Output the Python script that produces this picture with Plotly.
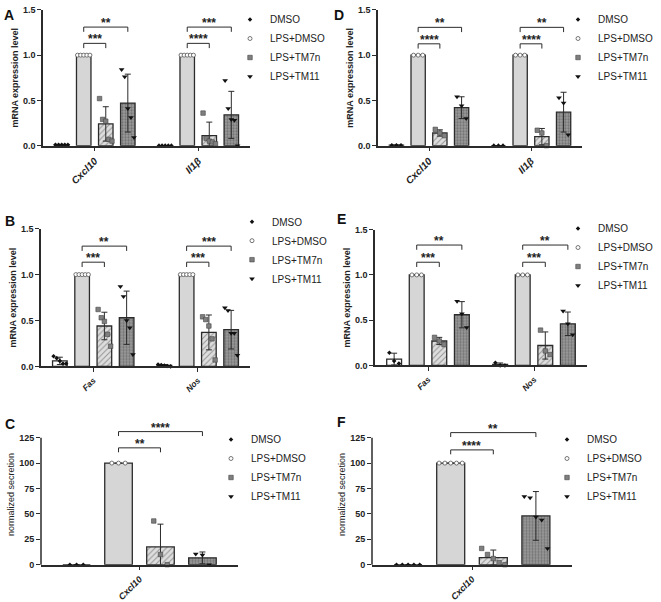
import plotly.graph_objects as go

GROUPS = ["DMSO", "LPS+DMSO", "LPS+TM7n", "LPS+TM11"]

# A: qPCR, n=5  (per gene -> per group)
A_GENES = ["Cxcl10", "Il1β"]
A_MEAN = [[0.01, 1.00, 0.24, 0.47], [0.00, 1.00, 0.11, 0.34]]
A_SD = [[0.003, 0.0, 0.19, 0.32], [0.0, 0.0, 0.15, 0.26]]
A_PTS = [
    [[0.01, 0.01, 0.01, 0.01, 0.01], [1, 1, 1, 1, 1], [0.52, 0.29, 0.27, 0.07, 0.05], [0.84, 0.76, 0.41, 0.31, 0.09]],
    [[0.0, 0.0, 0.0, 0.0, 0.0], [1, 1, 1, 1, 1], [0.36, 0.08, 0.05, 0.04, 0.02], [0.72, 0.41, 0.29, 0.28, 0.0]],
]
A_SIG = [["***", "**"], ["****", "***"]]

# B
B_GENES = ["Fas", "Nos"]
B_MEAN = [[0.06, 1.00, 0.44, 0.53], [0.01, 1.00, 0.37, 0.40]]
B_SD = [[0.04, 0.0, 0.15, 0.29], [0.01, 0.0, 0.19, 0.21]]
B_PTS = [
    [[0.11, 0.09, 0.06, 0.03, 0.03], [1, 1, 1, 1, 1], [0.62, 0.53, 0.49, 0.35, 0.22], [0.87, 0.76, 0.50, 0.42, 0.13]],
    [[0.02, 0.015, 0.01, 0.005, 0.0], [1, 1, 1, 1, 1], [0.54, 0.51, 0.44, 0.30, 0.07], [0.64, 0.61, 0.36, 0.36, 0.12]],
]
B_SIG = [["***", "**"], ["***", "***"]]

# C: secretion, n=3
C_GENES = ["Cxcl10"]
C_MEAN = [[0, 100, 17.5, 6.7]]
C_SD = [[0, 0, 22.4, 5.8]]
C_PTS = [[[0, 0, 0], [100, 100, 100], [43, 10, 0], [10.5, 9.5, 0]]]
C_SIG = [["**", "****"]]

# D: n=3
D_GENES = ["Cxcl10", "Il1β"]
D_MEAN = [[0.005, 1.00, 0.14, 0.42], [0.0, 1.00, 0.10, 0.37]]
D_SD = [[0.0, 0.0, 0.035, 0.12], [0.0, 0.0, 0.09, 0.22]]
D_PTS = [
    [[0.005, 0.005, 0.005], [1, 1, 1], [0.18, 0.14, 0.11], [0.54, 0.44, 0.30]],
    [[0.0, 0.0, 0.0], [1, 1, 1], [0.17, 0.14, 0.0], [0.53, 0.47, 0.12]],
]
D_SIG = [["****", "**"], ["****", "**"]]

# E: n=3
E_GENES = ["Fas", "Nos"]
E_MEAN = [[0.07, 1.00, 0.27, 0.56], [0.01, 1.00, 0.22, 0.46]]
E_SD = [[0.065, 0.0, 0.04, 0.145], [0.017, 0.0, 0.15, 0.13]]
E_PTS = [
    [[0.14, 0.05, 0.02], [1, 1, 1], [0.31, 0.27, 0.23], [0.71, 0.57, 0.42]],
    [[0.03, 0.0, 0.0], [1, 1, 1], [0.39, 0.16, 0.12], [0.60, 0.46, 0.34]],
]
E_SIG = [["***", "**"], ["***", "**"]]

# F: n=5
F_GENES = ["Cxcl10"]
F_MEAN = [[0, 100, 7, 48]]
F_SD = [[0, 0, 7.4, 24]]
F_PTS = [[[0, 0, 0, 0, 0], [100, 100, 100, 100, 100], [16, 10, 6, 2, 0], [67, 66, 47, 44, 16]]]
F_SIG = [["****", "**"]]

W, H = 661, 602
FONT = "Liberation Sans, Arial, sans-serif"
INK = "#2b2b2b"
SLOT = 0.213
BAR_W = 0.14
OFFS = [(k - 1.5) * SLOT for k in range(4)]

BAR_STYLE = [
    dict(color="white"),
    dict(color="#d6d6d6"),
    dict(color="#dedede", pattern=dict(shape="/", fgcolor="#4a4a4a", size=4, solidity=0.25, fillmode="overlay")),
    dict(color="#9c9c9c", pattern=dict(shape=".", fgcolor="#4a4a4a", size=3, solidity=0.45, fillmode="overlay")),
]
PT_STYLE = [
    dict(symbol="diamond", size=3.5, color="#111"),
    dict(symbol="circle", size=4, color="white", line=dict(color="#555", width=0.8)),
    dict(symbol="square", size=4.5, color="#7f7f7f", line=dict(color="#444", width=0.6)),
    dict(symbol="triangle-down", size=5, color="#111"),
]

# box = (x axis left px, x axis right px, px of top tick, px of zero)
PANELS = [
    dict(n=1, letter="A", lab=(2, 0), genes=A_GENES, mean=A_MEAN, sd=A_SD, pts=A_PTS, sig=A_SIG,
         box=(43, 250, 5, 144), ymax=1.5, yvis=1.5, dtick=0.5, fmt=".1f", ytitle="<b>mRNA expression level</b>",
         brk=(1.13, 1.31), leg=(270, 6), jit=0.03, gbold=True, gsize=10),
    dict(n=2, letter="B", lab=(3, 211), genes=B_GENES, mean=B_MEAN, sd=B_SD, pts=B_PTS, sig=B_SIG,
         box=(41, 250, 229, 370), ymax=1.5, yvis=1.5, dtick=0.5, fmt=".1f", ytitle="<b>mRNA expression level</b>",
         brk=(1.135, 1.31), leg=(272, 221), jit=0.03, gbold=True, gsize=8.5),
    dict(n=3, letter="C", lab=(3, 419), genes=C_GENES, mean=C_MEAN, sd=C_SD, pts=C_PTS, sig=C_SIG,
         box=(41, 238, 443, 573), ymax=138, yvis=125, dtick=25, fmt="d", ytitle="normalized secretion",
         brk=(115, 131), leg=(251, 444), jit=0.034, gbold=True, gsize=9),
    dict(n=4, letter="D", lab=(332, 0), genes=D_GENES, mean=D_MEAN, sd=D_SD, pts=D_PTS, sig=D_SIG,
         box=(378, 582, 5, 144), ymax=1.5, yvis=1.5, dtick=0.5, fmt=".1f", ytitle="<b>mRNA expression level</b>",
         brk=(1.125, 1.307), leg=(598, 6), jit=0.045, gbold=True, gsize=10),
    dict(n=5, letter="E", lab=(335, 209), genes=E_GENES, mean=E_MEAN, sd=E_SD, pts=E_PTS, sig=E_SIG,
         box=(375, 587, 230, 369), ymax=1.5, yvis=1.5, dtick=0.5, fmt=".1f", ytitle="<b>mRNA expression level</b>",
         brk=(1.14, 1.33), leg=(598, 228), jit=0.045, gbold=True, gsize=8.5),
    dict(n=6, letter="F", lab=(335, 417), genes=F_GENES, mean=F_MEAN, sd=F_SD, pts=F_PTS, sig=F_SIG,
         box=(372, 572, 443, 573), ymax=138, yvis=125, dtick=25, fmt="d", ytitle="normalized secretion",
         brk=(113, 130), leg=(587, 444), jit=0.029, gbold=True, gsize=9),
]

fig = go.Figure()
shapes, annos = [], []

for p in PANELS:
    s = "" if p["n"] == 1 else str(p["n"])
    xa, ya, lg = "x" + s, "y" + s, "legend" + s
    ng = len(p["genes"])

    for k in range(4):
        fig.add_trace(go.Bar(
            x=[g + OFFS[k] for g in range(ng)], y=[m[k] for m in p["mean"]], width=BAR_W,
            marker=dict(line=dict(color=INK, width=1.3), **BAR_STYLE[k]),
            error_y=dict(type="data", array=[v[k] for v in p["sd"]], color=INK, thickness=1, width=3),
            xaxis=xa, yaxis=ya, showlegend=False, hoverinfo="skip"))

    for k, grp in enumerate(GROUPS):
        xs, ys = [], []
        for g in range(ng):
            vals = p["pts"][g][k]
            for i, v in enumerate(vals):
                xs.append(g + OFFS[k] + (i - (len(vals) - 1) / 2) * p["jit"])
                ys.append(v)
        fig.add_trace(go.Scatter(x=xs, y=ys, mode="markers", marker=PT_STYLE[k], name=grp,
                                 legend=lg, xaxis=xa, yaxis=ya, cliponaxis=False))

    x0, x1, yt, yb = p["box"]
    ytop = yb - (yb - yt) * p["ymax"] / p["yvis"]
    clipped = p["ymax"] > p["yvis"]
    gene_txt = ["<i>%s</i>" % g for g in p["genes"]]
    nt = int(round(p["yvis"] / p["dtick"]))
    yvals = [i * p["dtick"] for i in range(nt + 1)]
    leg_top = max(0, p["leg"][1] - 14)
    fig.update_layout({
        "xaxis" + s: dict(domain=[x0 / W, x1 / W], anchor=ya, range=[-0.5, ng - 0.5],
                          showline=True, linecolor=INK, linewidth=1.5, ticks="outside", ticklen=4,
                          tickwidth=1.2, tickcolor=INK, tickvals=list(range(ng)), ticktext=gene_txt,
                          tickangle=-45, showgrid=False, zeroline=False,
                          tickfont=dict(size=p["gsize"], color="#222",
                                        weight="bold" if p["gbold"] else "normal")),
        "yaxis" + s: dict(domain=[1 - yb / H, 1 - ytop / H], anchor=xa, range=[0, p["ymax"]],
                          showline=not clipped, linecolor=INK, linewidth=1.5, ticks="outside",
                          ticklen=4, tickwidth=1.2, tickcolor=INK, tickvals=yvals,
                          tickformat=p["fmt"], showgrid=False, zeroline=False,
                          tickfont=dict(size=9, color="#222", weight="bold"),
                          title=dict(text=p["ytitle"], font=dict(size=9, color="#222"), standoff=3)),
        lg: dict(x=(p["leg"][0] - 40) / W, y=1 - leg_top / H, xanchor="left", yanchor="top",
                 bgcolor="rgba(0,0,0,0)", font=dict(size=10, color="#222")),
    })
    if clipped:
        shapes.append(dict(type="line", xref=xa + " domain", yref=ya + " domain", x0=0, x1=0,
                           y0=0, y1=p["yvis"] / p["ymax"], line=dict(color=INK, width=1.5)))

    leg_d = 0.035 * p["yvis"]
    for g in range(ng):
        for j, top in enumerate([2, 3]):
            xl, xr = g + OFFS[1], g + OFFS[top]
            yb_ = p["brk"][j]
            shapes.append(dict(type="path", xref=xa, yref=ya,
                               path="M %f,%f L %f,%f L %f,%f L %f,%f" % (xl, yb_ - leg_d, xl, yb_, xr, yb_, xr, yb_ - leg_d),
                               line=dict(color=INK, width=1)))
            annos.append(dict(x=(xl + xr) / 2, y=yb_, xref=xa, yref=ya, text="<b>%s</b>" % p["sig"][g][j],
                              showarrow=False, yanchor="bottom", yshift=-5, font=dict(size=12, color="#222")))

    annos.append(dict(x=p["lab"][0] / W, y=1 - p["lab"][1] / H, xref="paper", yref="paper",
                      xanchor="left", yanchor="top", showarrow=False, text="<b>%s</b>" % p["letter"],
                      font=dict(size=14, color="#111")))

fig.update_layout(
    width=W, height=H, margin=dict(l=0, r=0, t=0, b=0),
    paper_bgcolor="white", plot_bgcolor="rgba(0,0,0,0)",
    font=dict(family=FONT, color="#222"), barmode="overlay",
    shapes=shapes, annotations=annos,
)

fig.write_html("out.html", config={"displayModeBar": False},
               post_script="document.body.style.margin='0';")
